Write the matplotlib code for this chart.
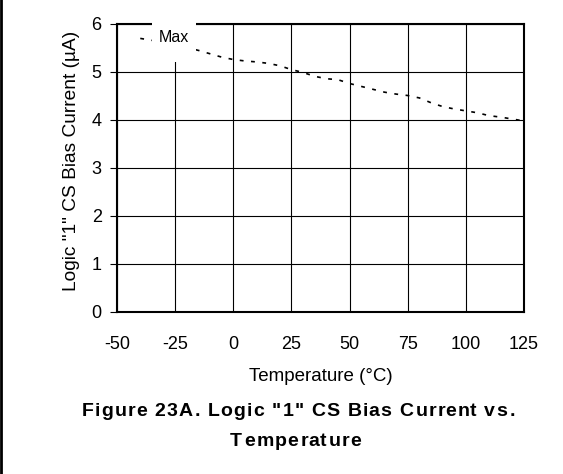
import matplotlib
matplotlib.use("Agg")
import matplotlib.pyplot as plt
from matplotlib.patches import Rectangle
from matplotlib.font_manager import FontProperties, findfont, get_font

# Max bias current vs temperature
temp_c = [-40, -35, -30, -25, -20, -15, -10, -5, 0, 5, 10, 15, 20, 25, 30, 35,
          40, 45, 50, 55, 60, 65, 70, 75, 80, 85, 90, 95, 100, 105, 110, 115,
          120, 125]
i_max = [5.70, 5.66, 5.62, 5.57, 5.51, 5.45, 5.38, 5.31, 5.26, 5.23, 5.21,
         5.18, 5.13, 5.05, 4.99, 4.91, 4.86, 4.84, 4.76, 4.70, 4.64, 4.58,
         4.54, 4.51, 4.46, 4.36, 4.28, 4.23, 4.19, 4.15, 4.09, 4.06, 4.02,
         3.98]
x_ticks = [-50, -25, 0, 25, 50, 75, 100, 125]
y_ticks = [0, 1, 2, 3, 4, 5, 6]
caption = ['Figure 23A. Logic "1" CS Bias Current vs.', "Temperature"]

plt.rcParams["font.family"] = ["Liberation Sans", "DejaVu Sans"]
plt.rcParams["axes.unicode_minus"] = False

W, H = 563, 474
fig = plt.figure(figsize=(W / 100, H / 100), dpi=100)
ax = fig.add_axes([117 / W, 1 - 312 / H, 407 / W, 288 / H])

ax.plot(temp_c, i_max, color="black", lw=1.2, dashes=(2.3, 4.5), zorder=2)

ax.set_xlim(-50, 125)
ax.set_ylim(0, 6)
ax.set_xticks(x_ticks)
ax.set_yticks(y_ticks)
ax.grid(True, color="black", lw=0.8)
ax.set_axisbelow(True)
for s in ax.spines.values():
    s.set_linewidth(1.5)
ax.tick_params(axis="x", length=0, pad=17, labelsize=13)
ax.tick_params(axis="y", length=5, width=0.8, pad=6, labelsize=13)
ax.set_xlabel("Temperature (°C)", fontsize=13.5, labelpad=11)
ax.set_ylabel('Logic "1" CS Bias Current (µA)', fontsize=13.8)
ax.yaxis.set_label_coords(-0.092, 0.524)

# white box behind the "Max" label, breaking the top frame
ax.add_patch(Rectangle((-34.9, 5.21), 18.9, 0.95, facecolor="white",
                       edgecolor="none", clip_on=False, zorder=2.6))
ax.text(-25.5, 5.72, "Max", fontsize=11.5, ha="center", va="center",
        zorder=3)

# letter-spaced bold caption (glyph advances from the font itself)
fp = FontProperties(family="Liberation Sans", weight="bold", size=14)
ft = get_font(findfont(fp))
ft.set_size(fp.get_size_in_points(), fig.dpi)
glyph_info = {}
for c in set("".join(caption)):
    g = ft.load_char(ord(c))
    glyph_info[c] = (g.linearHoriAdvance / 65536, g.horiBearingX / 64)


def spaced_text(s, xc, y_px, target_px):
    adv = [glyph_info[c][0] for c in s]
    gap = (target_px - sum(adv)) / (len(s) - 1)
    x = xc - target_px / 2
    for c, a in zip(s, adv):
        if c != " ":
            fig.text((x + glyph_info[c][1]) / W, 1 - y_px / H, c,
                     fontproperties=fp, ha="left", va="center")
        x += a + gap


spaced_text(caption[0], 297, 411, 433)
spaced_text(caption[1], 295, 442, 130)

# left edge rule of the page
fig.add_artist(plt.Line2D([0.002, 0.002], [0, 1], color="black", lw=2,
                          transform=fig.transFigure))

fig.savefig("out.png", dpi=100)
